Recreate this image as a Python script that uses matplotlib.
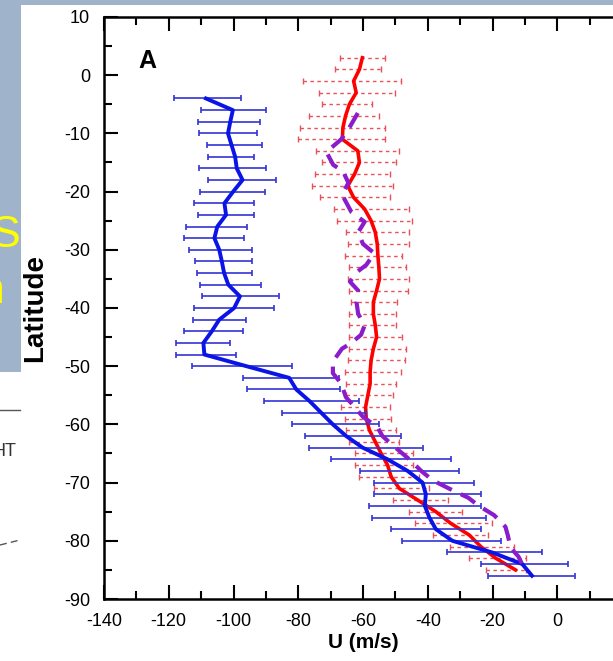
import numpy as np
import matplotlib.pyplot as plt
from matplotlib.patches import Rectangle
from matplotlib.lines import Line2D

plt.rcParams['font.family'] = ['Liberation Sans', 'DejaVu Sans']
plt.rcParams['axes.unicode_minus'] = False

# Blue profile with error bars (even latitudes)
blue_lat = np.arange(-4, -87, -2)
blue_u = [-108.5, -100.2, -101.0, -101.7, -100.6, -99.5, -99.0, -97.2, -100.1, -102.8,
          -102.3, -105.0, -105.9, -104.4, -103.6, -102.9, -101.6, -98.0, -99.8, -104.4,
          -106.7, -109.3, -109.0, -96.0, -82.8, -80.6, -76.5, -72.9, -69.3, -65.2,
          -60.1, -52.4, -46.2, -41.6, -40.6, -40.9, -39.5, -37.5, -32.4, -20.1,
          -10.8, -7.8]
blue_lo = [-118.3, -110.1, -111.1, -110.6, -108.2, -107.9, -110.8, -107.8, -110.5, -112.1,
           -111.0, -114.6, -115.4, -113.6, -111.8, -111.3, -110.3, -109.8, -112.2, -112.4,
           -115.4, -117.7, -117.7, -112.9, -97.0, -95.9, -90.5, -84.9, -81.8, -77.8,
           -76.8, -70.0, -60.9, -56.5, -56.7, -58.2, -57.2, -51.5, -47.9, -34.2,
           -23.6, -21.3]
blue_hi = [-97.7, -90.0, -91.8, -92.7, -91.3, -93.7, -90.0, -86.9, -90.3, -93.6,
           -93.6, -95.9, -96.8, -94.2, -94.2, -94.4, -91.6, -85.9, -87.4, -96.2,
           -97.0, -101.1, -99.2, -81.9, -67.4, -67.0, -61.1, -59.0, -55.0, -48.2,
           -41.4, -32.9, -30.5, -25.7, -23.6, -23.6, -22.1, -23.6, -17.5, -4.7,
           3.3, 5.6]

# Red profile with dotted error bars (odd latitudes)
red_lat = np.arange(3, -86, -2)
red_u = [-60.2, -61.1, -62.9, -62.1, -64.2, -65.4, -66.2, -66.4, -61.6, -61.1,
         -62.6, -64.7, -62.9, -59.5, -57.5, -56.2, -55.6, -55.4, -55.1, -54.9,
         -55.8, -56.8, -56.8, -56.2, -55.8, -56.8, -57.5, -57.8, -57.8, -58.5,
         -59.2, -59.0, -58.0, -56.2, -54.4, -52.4, -51.3, -48.8, -43.1, -37.5,
         -32.9, -27.2, -23.6, -19.0, -12.9]
red_lo = [-67.2, -68.5, -78.5, -73.6, -72.6, -76.7, -79.5, -80.1, -74.6, -72.6,
          -74.9, -75.9, -73.4, -69.1, -68.1, -65.2, -64.7, -65.7, -64.2, -64.7,
          -64.4, -63.6, -64.2, -64.4, -64.2, -64.2, -64.7, -65.7, -65.2, -65.4,
          -66.7, -65.7, -65.2, -64.2, -62.6, -62.6, -61.3, -56.5, -50.8, -45.7,
          -43.8, -38.5, -33.2, -27.4, -22.1]
red_hi = [-53.1, -54.4, -48.2, -50.0, -57.2, -55.1, -53.1, -53.1, -48.8, -49.8,
          -51.8, -50.8, -51.8, -45.9, -44.9, -45.9, -45.9, -47.8, -46.7, -45.7,
          -46.2, -49.6, -49.8, -49.8, -47.8, -46.7, -46.9, -48.2, -49.8, -50.8,
          -51.8, -51.3, -49.8, -48.8, -44.7, -44.7, -42.6, -39.5, -33.6, -29.3,
          -20.2, -21.3, -13.4, -9.8, -9.8]

# Purple dashed model profile
purple_lat = [-6.5, -9, -11, -12, -13.2, -15.4, -16.5, -18.5, -20.5, -23.5,
              -25.2, -27, -29, -30.6, -32.6, -34, -35.5, -37, -39, -41,
              -43, -44.6, -46, -47, -49.2, -51.2, -53, -55.3, -57, -58.7,
              -60.5, -62, -63.5, -66, -68, -69.6, -71, -72.6, -74, -75.6,
              -77.6, -79, -81.2, -82.7, -85]
purple_u = [-61.6, -64.2, -66.7, -68.8, -71.3, -69.2, -66.2, -64.5, -66.5, -63.6,
            -59.5, -61.5, -60.0, -56.5, -59.0, -62.3, -64.0, -61.5, -62.0, -61.5,
            -59.5, -60.6, -63.6, -66.5, -69.3, -69.3, -66.7, -65.3, -62.6, -60.0,
            -55.5, -54.0, -51.0, -45.7, -42.0, -38.5, -33.5, -27.5, -24.2, -19.5,
            -16.0, -15.3, -14.4, -12.0, -10.0]

xticks = np.arange(-140, 1, 20)
yticks = np.arange(-90, 11, 10)

W, H = 613, 661
fig = plt.figure(figsize=(W / 100, H / 100), dpi=100)
fig.patch.set_facecolor('white')

def fx(px):
    return px / W

def fy(py):
    return 1 - py / H

# slide remnants around the chart
slide_col = '#9fb3cb'
box = Rectangle((0, fy(372)), fx(21), 1 - fy(372), transform=fig.transFigure,
                facecolor=slide_col, edgecolor='none', zorder=0)
fig.add_artist(box)
fig.add_artist(Rectangle((0, fy(4.5)), 1, 1 - fy(4.5), transform=fig.transFigure,
                         facecolor=slide_col, edgecolor='none', zorder=0))
t1 = fig.text(fx(21), fy(247), 'S', color='#ffff00', fontsize=32, ha='right', va='baseline')
t2 = fig.text(fx(5), fy(303), 'n', color='#ffff00', fontsize=32, ha='right', va='baseline')
for t in (t1, t2):
    t.set_clip_path(box)
fig.add_artist(Line2D([fx(0), fx(20)], [fy(410), fy(410)], transform=fig.transFigure,
                      color='#555555', lw=1.0))
fig.text(fx(16), fy(452), 'HT', color='#333333', fontsize=13, ha='right', va='center')
fig.add_artist(Line2D([fx(0), fx(20)], [fy(545), fy(540)], transform=fig.transFigure,
                      color='#555555', lw=1.0, dashes=(5, 3)))

ax = fig.add_axes([fx(104), fy(599), fx(622) - fx(104), fy(17) - fy(599)])

red_err = [np.array(red_u) - np.array(red_lo), np.array(red_hi) - np.array(red_u)]
eb = ax.errorbar(red_u, red_lat, xerr=red_err, fmt='none', ecolor='#e8505a',
                 elinewidth=1.0, capsize=2, capthick=1.0, zorder=2)
eb[2][0].set_linestyle((0, (2.5, 2.5)))
ax.plot(red_u, red_lat, color='#ff0000', lw=2.6, zorder=3)

blue_err = [np.array(blue_u) - np.array(blue_lo), np.array(blue_hi) - np.array(blue_u)]
ax.errorbar(blue_u, blue_lat, xerr=blue_err, fmt='none', ecolor='#3434d4',
            elinewidth=1.2, capsize=2.5, capthick=1.2, zorder=4)
ax.plot(blue_u, blue_lat, color='#0a14e6', lw=2.8, zorder=5)

ax.plot(purple_u, purple_lat, color='#8a1ccc', lw=3, dashes=(4, 2.4), zorder=6)

ax.text(-129.4, 1.2, 'A', fontsize=18, fontweight='bold', ha='left', va='baseline')

ax.set_xlim(-140, 20)
ax.set_ylim(-90, 10)
ax.set_xticks(xticks)
ax.set_yticks(yticks)
ax.set_xticks(np.arange(-130, 20, 20), minor=True)
ax.set_yticks(np.arange(-85, 10, 10), minor=True)
ax.tick_params(which='both', direction='in', top=True, right=False, width=1.5,
               labelsize=13, pad=10)
ax.tick_params(which='major', length=10)
ax.tick_params(which='minor', length=5.5)
for side in ['left', 'bottom', 'top']:
    ax.spines[side].set_linewidth(1.8)
ax.spines['right'].set_visible(False)

ax.set_xlabel('U (m/s)', fontsize=15, fontweight='bold', va='top')
ax.xaxis.set_label_coords(0.5, -0.058)
ax.set_ylabel('Latitude', fontsize=20, fontweight='bold')
ax.yaxis.set_label_coords(-0.108, 0.5)

fig.savefig('out.png', dpi=100)
